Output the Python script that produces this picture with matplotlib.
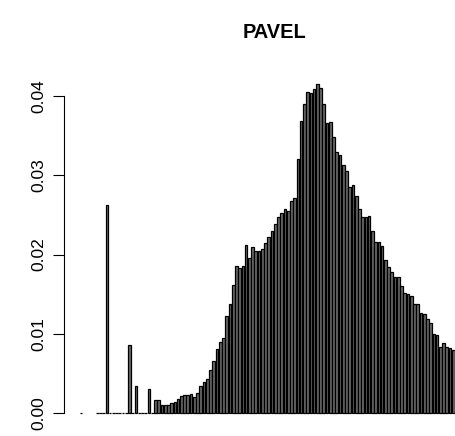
import numpy as np
import matplotlib
matplotlib.use("Agg")
import matplotlib.pyplot as plt

# Relative frequency of each bin (NaN = empty bin, not drawn)
freq = [
    0.0, np.nan, np.nan, np.nan, np.nan, 0.0, 0.0, 0.0, 0.0263, 0.0,
    0.0, 0.0, 0.0, 0.0, 0.0, 0.0086, 0.0, 0.0034, 0.0, 0.0,
    0.0, 0.0030, 0.0, 0.0016, 0.0016, 0.0010, 0.0010, 0.0010, 0.0012, 0.0014,
    0.0017, 0.0021, 0.0022, 0.0023, 0.0024, 0.0020, 0.0025, 0.0034, 0.0039, 0.0043,
    0.0054, 0.0065, 0.0080, 0.0089, 0.0095, 0.0122, 0.0137, 0.0162, 0.0185, 0.0183,
    0.0186, 0.0212, 0.0196, 0.0209, 0.0204, 0.0204, 0.0207, 0.0214, 0.0222, 0.0230,
    0.0238, 0.0248, 0.0252, 0.0257, 0.0255, 0.0268, 0.0272, 0.0321, 0.0369, 0.0390,
    0.0406, 0.0404, 0.0409, 0.0415, 0.0410, 0.0390, 0.0366, 0.0367, 0.0349, 0.0330,
    0.0326, 0.0313, 0.0305, 0.0285, 0.0288, 0.0274, 0.0258, 0.0247, 0.0247, 0.0249,
    0.0230, 0.0216, 0.0216, 0.0211, 0.0193, 0.0184, 0.0178, 0.0171, 0.0171, 0.0160,
    0.0151, 0.0150, 0.0148, 0.0137, 0.0137, 0.0126, 0.0125, 0.0118, 0.0114, 0.0100,
    0.0098, 0.0083, 0.0088, 0.0083, 0.0082, 0.0079,
]
n_bins = 121                      # bins in the full layout (the last few fall past the right edge)
y_ticks = [0.00, 0.01, 0.02, 0.03, 0.04]
y_tick_labels = ["0.00", "0.01", "0.02", "0.03", "0.04"]
title = "PAVEL"

plt.rcParams["font.family"] = ["Liberation Sans", "DejaVu Sans"]

W, H, DPI = 455, 436, 100
fig = plt.figure(figsize=(W / DPI, H / DPI), dpi=DPI)

# R-style barplot geometry: width 1, space 0.2, 4% padding on each axis
space, width = 0.2, 1.0
vals = np.array(freq, dtype=float)
idx = np.arange(len(vals))
lefts = space + idx * (width + space)
x_lo, x_hi = space, n_bins * (width + space)
pad = 0.04 * (x_hi - x_lo)
xlim = (x_lo - pad, x_hi + pad)
ymax = np.nanmax(vals)
ylim = (-0.04 * ymax, 1.04 * ymax)

# plot region in pixels: left edge, y=0 and y=0.04 rows
left_px, zero_px, top_tick_px = 64.0, 412.7, 96.3
scale = (zero_px - top_tick_px) / 0.04
top_px = zero_px - ylim[1] * scale
bot_px = zero_px - ylim[0] * scale
right_px = left_px + 422.5
ax = fig.add_axes([left_px / W, 1 - bot_px / H, (right_px - left_px) / W, (bot_px - top_px) / H])
ax.set_xlim(*xlim)
ax.set_ylim(*ylim)

ok = np.isfinite(vals)
ax.bar(lefts[ok], vals[ok], width=width, align="edge", color="#6a6a6a",
       edgecolor="black", linewidth=0.9, clip_on=False)

for s in ["top", "right", "bottom"]:
    ax.spines[s].set_visible(False)
ax.spines["left"].set_bounds(0, 0.04)
ax.spines["left"].set_linewidth(0.8)
ax.set_xticks([])
ax.set_yticks(y_ticks)
ax.set_yticklabels(y_tick_labels, rotation=90, va="center", fontsize=12.5)
ax.tick_params(axis="y", length=8, width=0.8, pad=5)

fig.text(275 / W, 1 - 32 / H, title, ha="center", va="center",
         fontsize=14.4, fontweight="bold")

fig.savefig("out.png", dpi=DPI)
